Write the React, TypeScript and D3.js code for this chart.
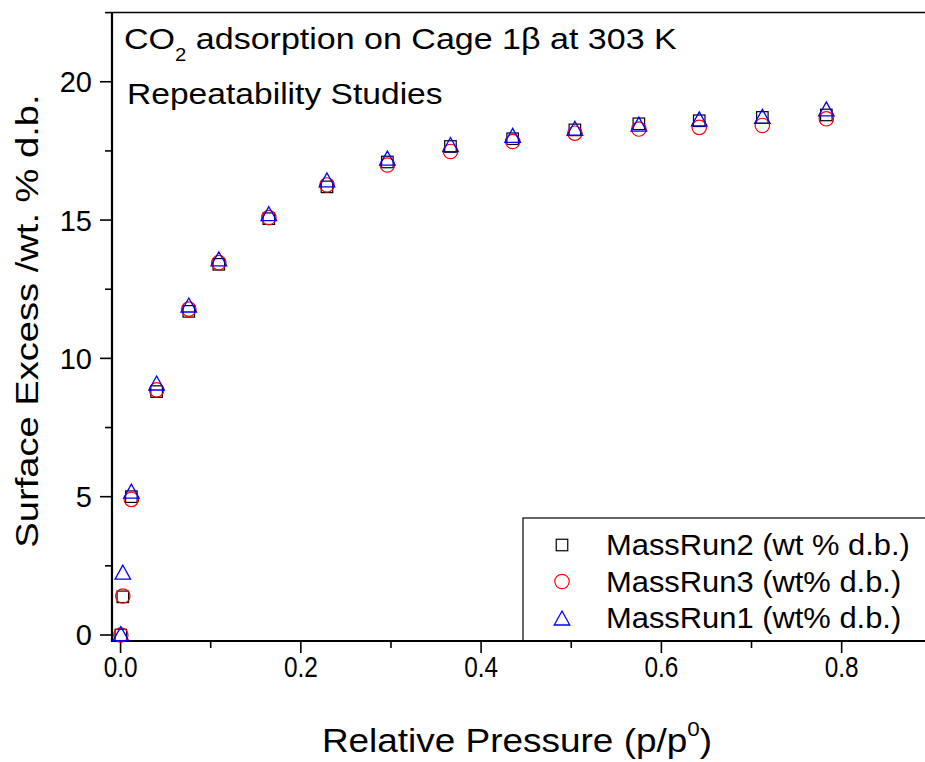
import React from "react";
import * as d3 from "d3";

const pressure = [0.0003, 0.0025, 0.012, 0.04, 0.0757, 0.109, 0.1645, 0.229, 0.296, 0.366, 0.435, 0.504, 0.575, 0.642, 0.712, 0.783];
const massRun2 = [0, 1.38, 5.0, 8.8, 11.7, 13.4, 15.05, 16.2, 17.1, 17.66, 17.94, 18.26, 18.48, 18.59, 18.71, 18.8];
const massRun3 = [0, 1.41, 4.9, 8.86, 11.78, 13.46, 15.09, 16.27, 16.99, 17.48, 17.84, 18.14, 18.29, 18.35, 18.42, 18.66];
const massRun1 = [0.05, 2.27, 5.2, 9.11, 11.93, 13.6, 15.23, 16.45, 17.24, 17.73, 18.06, 18.32, 18.47, 18.66, 18.75, 19.02];

const xMajorTicks = [0, 0.2, 0.4, 0.6, 0.8];
const xMinorTicks = [0.1, 0.3, 0.5, 0.7];
const yMajorTicks = [0, 5, 10, 15, 20];
const yMinorTicks = [2.5, 7.5, 12.5, 17.5, 22.5];

const legendLabels = ["MassRun2 (wt % d.b.)", "MassRun3 (wt% d.b.)", "MassRun1 (wt% d.b.)"];

const FONT = "'Liberation Sans', Arial, sans-serif";

function Marker({ kind, x, y }: { kind: string; x: number; y: number }) {
  if (kind === "square") {
    const s = 11.5;
    return <rect x={x - s / 2} y={y - s / 2} width={s} height={s} fill="none" stroke="#000" strokeWidth={1.2} />;
  }
  if (kind === "circle") {
    return <circle cx={x} cy={y} r={7.2} fill="none" stroke="#ff0000" strokeWidth={1.2} />;
  }
  const w = 15.5, h = 14;
  const d = `M${x},${y - h / 2}L${x + w / 2},${y + h / 2}L${x - w / 2},${y + h / 2}Z`;
  return <path d={d} fill="none" stroke="#0000ff" strokeWidth={1.3} />;
}

function hs(x0: number, s: number) {
  return `translate(${x0},0) scale(${s},1) translate(${-x0},0)`;
}

export default function App() {
  const W = 925, H = 762;
  const left = 112, right = 930, top = 12.6, bottom = 641;
  const x = d3.scaleLinear().domain([-0.0095, 0.898]).range([left, right]);
  const y = d3.scaleLinear().domain([-0.217, 22.5]).range([bottom, top]);

  const series = [
    { kind: "square", values: massRun2 },
    { kind: "circle", values: massRun3 },
    { kind: "triangle", values: massRun1 },
  ];

  return (
    <svg width={W} height={H} style={{ position: "absolute", left: 0, top: 0, background: "#fff" }} fontFamily={FONT}>
      <rect x={0} y={0} width={W} height={H} fill="#fff" />
      <line x1={left} x2={right} y1={top} y2={top} stroke="#000" strokeWidth={1.5} />
      <rect x={523} y={518} width={420} height={bottom - 518} fill="#fff" stroke="#000" strokeWidth={1.2} />
      {legendLabels.map((lab, i) => {
        const cy = 545 + i * 36.5;
        return (
          <g key={lab}>
            <Marker kind={series[i].kind} x={562} y={cy} />
            <text x={606} y={cy + 10.5} fontSize={30} fill="#000" transform={hs(606, 1.03)}>{lab}</text>
          </g>
        );
      })}
      <line x1={left} x2={left} y1={top} y2={bottom + 1} stroke="#000" strokeWidth={2.2} />
      <line x1={left - 1} x2={right} y1={bottom} y2={bottom} stroke="#000" strokeWidth={2.2} />
      {xMajorTicks.map((t) => (
        <g key={"xM" + t}>
          <line x1={x(t)} x2={x(t)} y1={bottom} y2={bottom + 12} stroke="#000" strokeWidth={1.6} />
          <text x={x(t)} y={677} fontSize={29} textAnchor="middle" fill="#000" transform={hs(x(t), 0.84)}>{t.toFixed(1)}</text>
        </g>
      ))}
      {xMinorTicks.map((t) => (
        <line key={"xm" + t} x1={x(t)} x2={x(t)} y1={bottom} y2={bottom + 7} stroke="#000" strokeWidth={1.6} />
      ))}
      {yMajorTicks.map((t) => (
        <g key={"yM" + t}>
          <line x1={left - 12} x2={left} y1={y(t)} y2={y(t)} stroke="#000" strokeWidth={1.6} />
          <text x={92} y={y(t) + 10.5} fontSize={29} textAnchor="end" fill="#000">{t}</text>
        </g>
      ))}
      {yMinorTicks.map((t) => (
        <line key={"ym" + t} x1={left - 7} x2={left} y1={y(t)} y2={y(t)} stroke="#000" strokeWidth={1.6} />
      ))}
      {series.map((s) => (
        <g key={s.kind}>
          {s.values.map((v, i) => (
            <Marker key={i} kind={s.kind} x={x(pressure[i])} y={y(v)} />
          ))}
        </g>
      ))}
      <text x={124} y={49} fontSize={30} fill="#000" transform={hs(124, 1.134)}>
        CO<tspan fontSize={18} dy={12}>2</tspan><tspan dy={-12}> adsorption on Cage 1β at 303 K</tspan>
      </text>
      <text x={127} y={104} fontSize={30} fill="#000" transform={hs(127, 1.12)}>Repeatability Studies</text>
      <text x={517} y={752} fontSize={33} textAnchor="middle" fill="#000" transform={hs(517, 1.12)}>
        Relative Pressure (p/p<tspan fontSize={20} dy={-16}>0</tspan><tspan dy={16}>)</tspan>
      </text>
      <g transform="translate(38,321) rotate(-90)">
        <text x={0} y={0} fontSize={31} textAnchor="middle" fill="#000" transform="scale(1.23,1)">
          Surface Excess /wt. % d.b.
        </text>
      </g>
    </svg>
  );
}
